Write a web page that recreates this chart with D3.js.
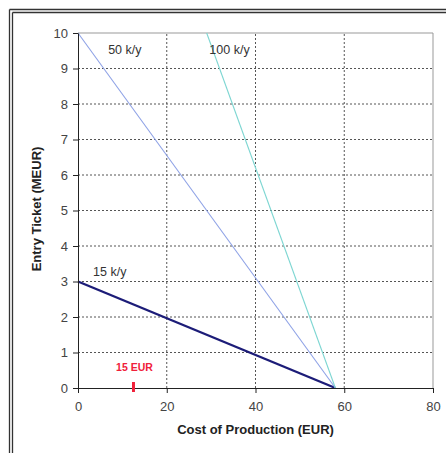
<!DOCTYPE html>
<html lang="en">
<head>
    <meta charset="UTF-8">
    <title>Entry Ticket vs Cost of Production</title>
    <style>
        body { margin: 0; background: #fff; }
        svg { display: block; font-family: "Liberation Sans", Arial, sans-serif; }
    </style>
</head>
<body>
    <div id="chart"></div>

    <script src="https://d3js.org/d3.v7.min.js"></script>
    <script>
        const w = 446;
        const h = 453;

        // values
        const xTicks = [0, 20, 40, 60, 80];
        const yTicks = [0, 1, 2, 3, 4, 5, 6, 7, 8, 9, 10];
        const seriesNames = ['15 k/y', '50 k/y', '100 k/y'];
        const seriesCost = [[0, 58], [0, 58], [29, 58]];
        const seriesTicket = [[3, 0], [10, 0], [10, 0]];
        const labelCost = [3.4, 6.8, 29.6];
        const labelTicket = [3.27, 9.52, 9.52];
        const markerCost = 12.5;
        const markerText = '15 EUR';

        const colors = ['#1c1c78', '#8ea2e6', '#7dd6d2'];
        const widths = [2.4, 1.1, 1.1];

        const xScale = d3.scaleLinear().domain([0, 80]).range([78, 433]);
        const yScale = d3.scaleLinear().domain([0, 10]).range([388, 33]);

        const svg = d3.select('#chart')
            .append('svg')
            .attr('width', w)
            .attr('height', h);

        svg.append('rect').attr('width', w).attr('height', h).attr('fill', '#fff');

        // double frame (left + top)
        [9.5, 12.5].forEach(p => {
            svg.append('line').attr('x1', p).attr('x2', p).attr('y1', p).attr('y2', h)
                .attr('stroke', '#333').attr('stroke-width', 1.3);
            svg.append('line').attr('x1', p).attr('x2', w).attr('y1', p).attr('y2', p)
                .attr('stroke', '#333').attr('stroke-width', 1.3);
        });

        // grid
        const grid = svg.append('g');
        grid.selectAll('.hg')
            .data(yTicks.filter(d => d > 0 && d < 10))
            .enter()
            .append('line')
            .attr('x1', xScale(0)).attr('x2', xScale(80))
            .attr('y1', d => yScale(d)).attr('y2', d => yScale(d))
            .attr('stroke', '#555').attr('stroke-dasharray', '2,2');
        grid.selectAll('.vg')
            .data(xTicks.filter(d => d > 0 && d < 80))
            .enter()
            .append('line')
            .attr('x1', d => xScale(d)).attr('x2', d => xScale(d))
            .attr('y1', yScale(0)).attr('y2', yScale(10))
            .attr('stroke', '#555').attr('stroke-dasharray', '2,2');

        // top & right border
        svg.append('path')
            .attr('d', `M${xScale(0)},${yScale(10)}H${xScale(80)}V${yScale(0)}`)
            .attr('fill', 'none').attr('stroke', '#999');

        // series
        const line = d3.line().x(d => xScale(d[0])).y(d => yScale(d[1]));
        seriesNames.forEach((name, i) => {
            const pts = seriesCost[i].map((c, j) => [c, seriesTicket[i][j]]);
            svg.append('path')
                .datum(pts)
                .attr('d', line)
                .attr('fill', 'none')
                .attr('stroke', colors[i])
                .attr('stroke-width', widths[i]);
            svg.append('text')
                .attr('x', xScale(labelCost[i]))
                .attr('y', yScale(labelTicket[i]))
                .attr('dy', '0.35em')
                .style('font-size', '12.5px')
                .style('fill', '#333')
                .text(name);
        });

        // axes
        const xAxis = d3.axisBottom(xScale).tickValues(xTicks).tickSizeInner(5).tickSizeOuter(0).tickPadding(9);
        const yAxis = d3.axisLeft(yScale).tickValues(yTicks).tickSizeInner(5).tickSizeOuter(0).tickPadding(5);

        const gx = svg.append('g')
            .attr('transform', `translate(0,${yScale(0)})`)
            .call(xAxis);
        const gy = svg.append('g')
            .attr('transform', `translate(${xScale(0)},0)`)
            .call(yAxis);
        [gx, gy].forEach(g => {
            g.select('.domain').attr('stroke', '#222');
            g.selectAll('.tick line').attr('stroke', '#222');
            g.selectAll('.tick text')
                .style('font-size', '13px')
                .style('font-family', '"Liberation Sans", Arial, sans-serif')
                .attr('fill', '#444');
        });

        // 15 EUR marker
        svg.append('line')
            .attr('x1', xScale(markerCost)).attr('x2', xScale(markerCost))
            .attr('y1', yScale(0) - 6).attr('y2', yScale(0) + 4)
            .attr('stroke', '#f0203a').attr('stroke-width', 3);
        svg.append('text')
            .attr('x', xScale(markerCost) + 1)
            .attr('y', yScale(0) - 17)
            .attr('text-anchor', 'middle')
            .style('font-size', '10.5px')
            .style('font-weight', 'bold')
            .style('fill', '#f0203a')
            .text(markerText);

        // axis titles
        svg.append('text')
            .attr('x', 255.5)
            .attr('y', 434)
            .attr('text-anchor', 'middle')
            .style('font-size', '13px')
            .style('font-weight', 'bold')
            .style('fill', '#222')
            .text('Cost of Production (EUR)');
        svg.append('text')
            .attr('transform', 'translate(41,209) rotate(-90)')
            .attr('text-anchor', 'middle')
            .style('font-size', '13px')
            .style('font-weight', 'bold')
            .style('fill', '#222')
            .text('Entry Ticket (MEUR)');
    </script>
</body>
</html>
